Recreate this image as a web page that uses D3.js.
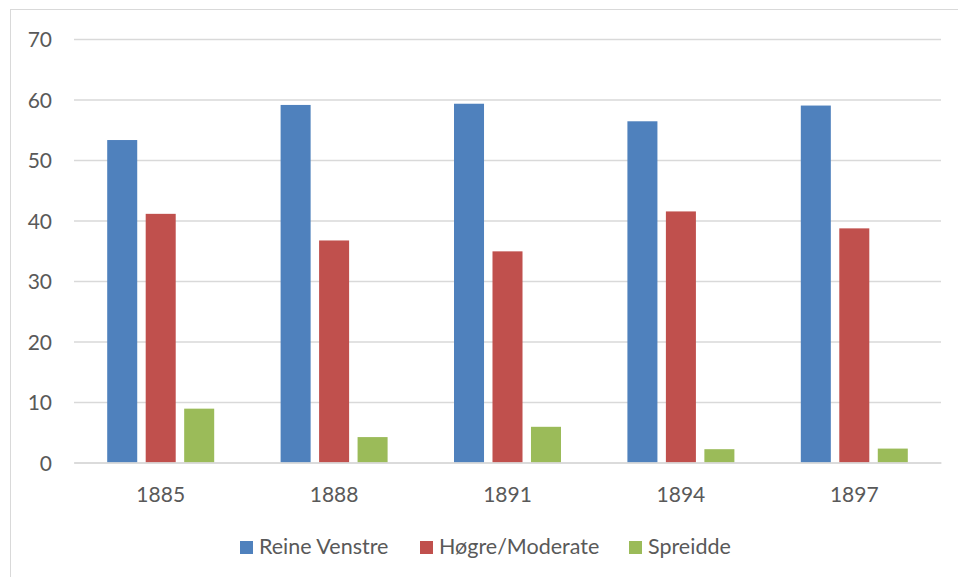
<!DOCTYPE html>
<html><head><meta charset="utf-8">
<script src="https://cdn.jsdelivr.net/npm/d3@7"></script>
<style>body{margin:0;background:#fff;}svg{display:block;font-family:Lato,"Open Sans",sans-serif;}</style>
</head><body>
<svg id="c" width="958" height="577"></svg>
<script>
const years = ["1885","1888","1891","1894","1897"];
const seriesNames = ["Reine Venstre","Høgre/Moderate","Spreidde"];
const reineVenstre = [53.3, 59.1, 59.3, 56.4, 59.0];
const hogreModerate = [41.1, 36.7, 34.9, 41.5, 38.7];
const spreidde = [8.9, 4.2, 5.9, 2.2, 2.3];
const yTicks = [0,10,20,30,40,50,60,70];
const colors = ["#4f81bd","#c0504d","#9bbb59"];

const seriesValues = [reineVenstre, hogreModerate, spreidde];
const svg = d3.select("#c");
svg.append("rect").attr("x",10.5).attr("y",9.5).attr("width",960).attr("height",600)
  .attr("fill","#fff").attr("stroke","#d9d9d9").attr("stroke-width",1);

const y = d3.scaleLinear().domain([0,70]).range([462.5,39]);
const x = d3.scaleBand().domain(years).range([74,941]).paddingInner(0.383).paddingOuter(0.1915);
const xs = d3.scaleBand().domain(seriesNames).range([0,x.bandwidth()]).paddingInner(0.22);

const yAxis = d3.axisLeft(y).tickValues(yTicks).tickSize(-(941-74)).tickPadding(22).tickFormat(d3.format("d"));
const gy = svg.append("g").attr("transform","translate(74,0)").call(yAxis);
gy.select(".domain").remove();
gy.selectAll(".tick line").attr("stroke","#d9d9d9").attr("stroke-width",1.3);
gy.selectAll(".tick text").attr("fill","#595959").attr("font-size",21).attr("font-family","Lato").attr("text-anchor","end").attr("x",-22).attr("dy","0.36em");

const groups = svg.append("g").selectAll("g").data(years).join("g")
  .attr("transform",d=>`translate(${x(d)},0)`);
groups.selectAll("rect").data((d,i)=>seriesNames.map((s,j)=>({s,v:seriesValues[j][i],j})))
  .join("rect")
  .attr("x",d=>xs(d.s)).attr("width",xs.bandwidth())
  .attr("y",d=>y(d.v)).attr("height",d=>y(0)-y(d.v))
  .attr("fill",d=>colors[d.j]);

const xAxis = d3.axisBottom(x).tickSize(0).tickPadding(14);
const gx = svg.append("g").attr("transform",`translate(0,${y(0)})`).call(xAxis);
gx.select(".domain").attr("stroke","#d9d9d9").attr("stroke-width",1.3);
gx.selectAll(".tick text").attr("fill","#595959").attr("font-size",21).attr("font-family","Lato").attr("y",39).attr("dy","0");

const legendX = [240, 420, 629];
const lg = svg.append("g").selectAll("g").data(seriesNames).join("g")
  .attr("transform",(d,i)=>`translate(${legendX[i]},541)`);
lg.append("rect").attr("width",13).attr("height",13).attr("fill",(d,i)=>colors[i]);
lg.append("text").attr("x",19).attr("y",13.3).attr("fill","#595959").attr("font-size",21.5).text(d=>d);
</script>
</body></html>
